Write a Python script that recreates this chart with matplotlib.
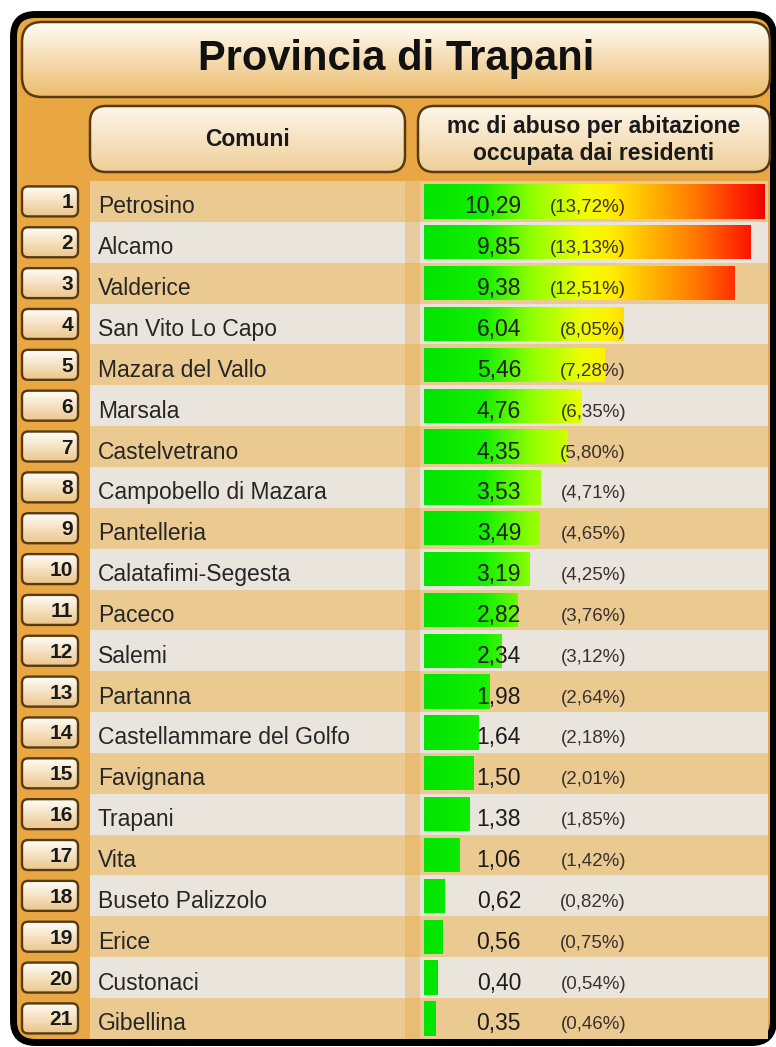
import matplotlib.pyplot as plt
import numpy as np
from matplotlib.patches import FancyBboxPatch, Rectangle
from matplotlib.colors import LinearSegmentedColormap

plt.rcParams['font.family'] = ['Liberation Sans', 'DejaVu Sans']

titolo = "Provincia di Trapani"
col_comuni = "Comuni"
col_valori = "mc di abuso per abitazione\noccupata dai residenti"

comuni = ["Petrosino", "Alcamo", "Valderice", "San Vito Lo Capo", "Mazara del Vallo",
          "Marsala", "Castelvetrano", "Campobello di Mazara", "Pantelleria",
          "Calatafimi-Segesta", "Paceco", "Salemi", "Partanna", "Castellammare del Golfo",
          "Favignana", "Trapani", "Vita", "Buseto Palizzolo", "Erice", "Custonaci", "Gibellina"]
valori = [10.29, 9.85, 9.38, 6.04, 5.46, 4.76, 4.35, 3.53, 3.49, 3.19, 2.82,
          2.34, 1.98, 1.64, 1.50, 1.38, 1.06, 0.62, 0.56, 0.40, 0.35]
percentuali = [13.72, 13.13, 12.51, 8.05, 7.28, 6.35, 5.80, 4.71, 4.65, 4.25, 3.76,
               3.12, 2.64, 2.18, 2.01, 1.85, 1.42, 0.82, 0.75, 0.54, 0.46]

W, H = 776, 1047
ROW_TOP, PITCH = 181, 40.85
n = len(comuni)
ROW_BOT = ROW_TOP + PITCH * n

PANEL = "#E8A743"
EDGE = "#573A12"
STRIPE_A = "#EBCA92"
STRIPE_B = "#E9E5DD"

def fmt(v):
    return f"{v:.2f}".replace(".", ",")

def gradient_box(ax, x0, y0, w, h, r, top, bottom, lw=1.8):
    box = FancyBboxPatch((x0, y0), w, h, boxstyle=f"round,pad=0,rounding_size={r}",
                         fc="none", ec=EDGE, lw=lw, zorder=4)
    ax.add_patch(box)
    cm = LinearSegmentedColormap.from_list("g", [top, bottom])
    im = ax.imshow(np.linspace(0, 1, 64)[:, None], cmap=cm, aspect="auto",
                   extent=(x0, x0 + w, y0 + h, y0), zorder=3, interpolation="bilinear")
    im.set_clip_path(box)

fig = plt.figure(figsize=(W / 100, H / 100), dpi=100)
bg = fig.add_axes([0, 0, 1, 1], zorder=0)
bg.axis("off")

# outer panel
bg.add_patch(FancyBboxPatch((13.5, 14.5), 760, 1028, boxstyle="round,pad=0,rounding_size=22",
                            fc=PANEL, ec="black", lw=5, zorder=1))

# title and headers
gradient_box(bg, 22, 22, 748, 75, 20, "#FFFCF5", "#ECBC6C")
gradient_box(bg, 90, 106, 315, 66, 16, "#FDF6EA", "#EFCF98")
gradient_box(bg, 418, 106, 352, 66, 16, "#FDF6EA", "#EFCF98")

# row stripes and rank boxes
for i in range(n):
    yc = ROW_TOP + PITCH * (i + 0.5)
    bg.add_patch(Rectangle((90, ROW_TOP + PITCH * i), 678, PITCH,
                           fc=STRIPE_A if i % 2 == 0 else STRIPE_B, ec="none", zorder=2))
    gradient_box(bg, 22, yc - 15, 56, 30, 6, "#FFFDF8", "#EBC68A", lw=1.7)

# column separator
bg.add_patch(Rectangle((405, ROW_TOP), 15, ROW_BOT - ROW_TOP, fc=PANEL, alpha=0.4,
                       ec="none", zorder=2.5))
bg.set_xlim(0, W)
bg.set_ylim(H, 0)

# bars with value-anchored gradient
PX_PER_UNIT = 33.1
x_left = 424
x_right = 768
bax = fig.add_axes([x_left / W, 1 - ROW_BOT / H, (x_right - x_left) / W, (ROW_BOT - ROW_TOP) / H],
                   zorder=1)
bax.patch.set_alpha(0)
bax.axis("off")
xmax = (x_right - x_left) / PX_PER_UNIT

stops = [(0.0, "#00E400"), (1.8, "#14F000"), (3.2, "#8CFF00"), (4.8, "#EEFF00"),
         (5.6, "#FFF000"), (6.8, "#FFB800"), (8.2, "#FF7800"), (9.5, "#FF2800"),
         (xmax, "#EE0000")]
cm_bar = LinearSegmentedColormap.from_list("bar", [(v / xmax, c) for v, c in stops])
grad = np.linspace(0, 1, 256)[None, :]

rows = np.arange(n)
bars = bax.barh(rows, valori, height=0.84, color="none", edgecolor="none")
for i, b in enumerate(bars):
    im = bax.imshow(grad, cmap=cm_bar, aspect="auto", extent=(0, xmax, i + 0.5, i - 0.5),
                    zorder=2, interpolation="bilinear")
    im.set_clip_path(b)
bax.set_xlim(0, xmax)
bax.set_ylim(n - 0.5, -0.5)

# text layer on top
tx = fig.add_axes([0, 0, 1, 1], zorder=2)
tx.patch.set_alpha(0)
tx.axis("off")
tx.set_xlim(0, W)
tx.set_ylim(H, 0)

tx.text(396, 59, titolo, ha="center", va="center", fontsize=30, fontweight="bold",
        color="#111111")
tx.text(248, 140, col_comuni, ha="center", va="center", fontsize=16.5, fontweight="bold",
        color="#1A1A1A")
tx.text(594, 140, col_valori, ha="center", va="center", fontsize=16.5, fontweight="bold",
        color="#1A1A1A", linespacing=1.25)

for i in range(n):
    yc = ROW_TOP + PITCH * (i + 0.5)
    tx.text(73, yc + 7, str(i + 1), ha="right", va="baseline", fontsize=15,
            fontweight="bold", color="#1A1A1A")
    tx.text(98, yc + 12, comuni[i], ha="left", va="baseline", fontsize=16.5,
            color="#262626")
    tx.text(521, yc + 12, fmt(valori[i]), ha="right", va="baseline", fontsize=16.5,
            color="#1C1C1C")
    tx.text(626, yc + 11, f"({fmt(percentuali[i])}%)", ha="right", va="baseline",
            fontsize=13.5, color="#3A3030")

fig.savefig("out.png", dpi=100)
